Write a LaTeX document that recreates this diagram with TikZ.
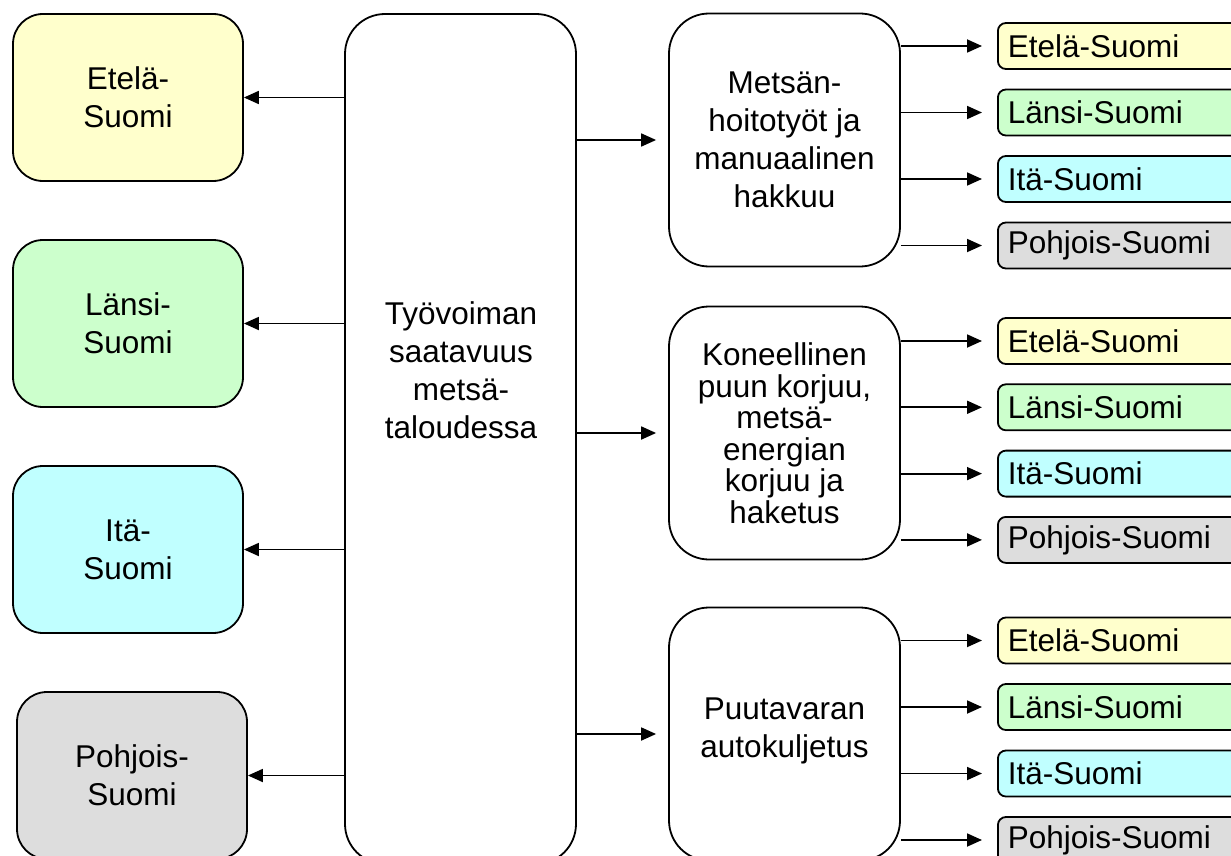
\documentclass[tikz,border=0pt]{standalone}
\usepackage{fontspec}
\setmainfont{Liberation Sans}
\usetikzlibrary{positioning}
\usetikzlibrary{arrows.meta}
\definecolor{etela}{HTML}{FFFFCC}
\definecolor{lansi}{HTML}{CCFFCC}
\definecolor{ita}{HTML}{C0FFFF}
\definecolor{pohjois}{HTML}{DDDDDD}

\begin{document}
\begin{tikzpicture}[x=1pt,y=-1pt,node distance=226pt,on grid,>={Triangle[length=15pt,width=13pt]},
		line width=1.8pt,font=\fontsize{31.5}{38}\selectfont,
		region/.style={rectangle,draw=black,rounded corners=30pt,minimum width=230pt,minimum height=167pt,align=center},
		task/.style={rectangle,draw=black,rounded corners=40pt,minimum width=231pt,minimum height=253pt,align=center},
		area/.style={rectangle,draw=black,rounded corners=8pt,anchor=west,minimum height=46pt,text width=228pt,inner xsep=10pt,align=left}]
		\clip (0,0) rectangle (1231,856);
		% vasen sarake
		\node[region,fill=etela]   (lEtela)   at (128,97.5)          {Etelä-\\Suomi};
		\node[region,fill=lansi]   (lLansi)   [below=of lEtela]      {Länsi-\\Suomi};
		\node[region,fill=ita]     (lIta)     [below=of lLansi]      {Itä-\\Suomi};
		\node[region,fill=pohjois] (lPohjois) [below=of lIta,xshift=4pt] {Pohjois-\\Suomi};
		
		% keskimmäinen laatikko
		\node[rectangle,draw=black,rounded corners=40pt,minimum width=231pt,minimum height=850pt] (tyo) at (460.5,439) {};
		\node[align=center] (tyoText) at (461,370) {Työvoiman\\saatavuus\\metsä-\\taloudessa};
		
		% tehtävät
		\node[task] (hoito) at (784.5,140) {Metsän-\\hoitotyöt ja\\manuaalinen\\hakkuu};
		\node[task,font=\fontsize{31.5}{31.5}\selectfont] (kone) at (784.5,433) {Koneellinen\\puun korjuu,\\metsä-\\energian\\korjuu ja\\haketus};
		\node[task,text depth=12pt] (kulj) at (784.5,734) {Puutavaran\\autokuljetus};
		
		% oikea sarake
		\node[area,fill=etela]   (hEtela)   at (997,46)  {Etelä-Suomi};
		\node[area,fill=lansi]   (hLansi)   [below=66.5pt of hEtela] {Länsi-Suomi};
		\node[area,fill=ita]     (hIta)     [below=66.5pt of hLansi] {Itä-Suomi};
		\node[area,fill=pohjois] (hPohjois) [below=66.5pt of hIta]   {Pohjois-Suomi};
		
		\node[area,fill=etela]   (kEtela)   at (997,341) {Etelä-Suomi};
		\node[area,fill=lansi]   (kLansi)   [below=66.3pt of kEtela] {Länsi-Suomi};
		\node[area,fill=ita]     (kIta)     [below=66.3pt of kLansi] {Itä-Suomi};
		\node[area,fill=pohjois] (kPohjois) [below=66.3pt of kIta]   {Pohjois-Suomi};
		
		\node[area,fill=etela]   (aEtela)   at (997,640.5) {Etelä-Suomi};
		\node[area,fill=lansi]   (aLansi)   [below=66.5pt of aEtela] {Länsi-Suomi};
		\node[area,fill=ita]     (aIta)     [below=66.5pt of aLansi] {Itä-Suomi};
		\node[area,fill=pohjois] (aPohjois) [below=66.5pt of aIta]   {Pohjois-Suomi};
		
		\foreach \r in {lEtela,lLansi,lIta,lPohjois}
		\draw[->] (tyo.west |- \r) -- (\r.east);
		
		\foreach \t in {hoito,kone,kulj}
		\draw[->,shorten >=12pt] (tyo.east |- \t) -- (\t.west);
		
		\foreach \t/\p in {hoito/h,kone/k,kulj/a}
		\foreach \r in {Etela,Lansi,Ita,Pohjois}
		\draw[->,shorten >=15pt] (\t.east |- \p\r.west) -- (\p\r.west);
\end{tikzpicture}
\end{document}
